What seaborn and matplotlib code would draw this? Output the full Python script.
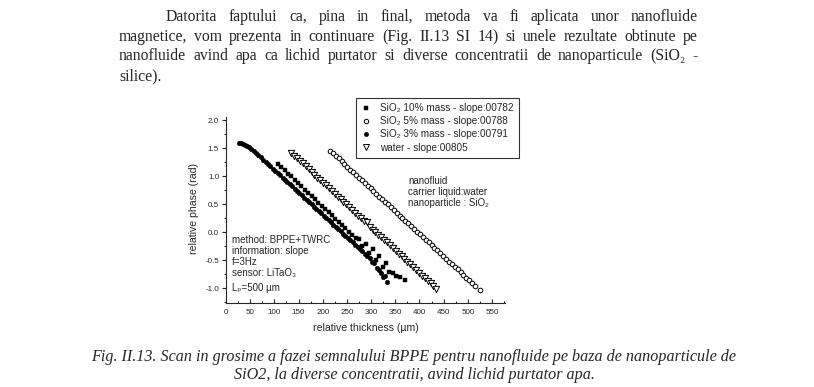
import matplotlib
matplotlib.use("Agg")
import matplotlib.pyplot as plt
import seaborn as sns
import pandas as pd
from matplotlib.lines import Line2D

# ---------------- data ----------------
x_10 = [107, 114, 121, 128, 135, 142, 149, 156, 163, 170, 177, 184, 191, 198, 205, 212,
        219, 226, 233, 240, 247, 254, 261, 268, 275, 282, 289, 296, 303, 310, 317, 324,
        331, 338, 345, 352, 360, 370]
y_10 = [1.22, 1.16, 1.11, 1.05, 1.00, 0.93, 0.88, 0.82, 0.76, 0.71, 0.65, 0.60, 0.53, 0.47,
        0.42, 0.36, 0.31, 0.24, 0.19, 0.13, 0.07, 0.01, -0.04, -0.10, -0.12, -0.24, -0.20,
        -0.36, -0.30, -0.50, -0.42, -0.62, -0.55, -0.70, -0.72, -0.78, -0.80, -0.85]

x_5 = [215, 221, 227, 233, 239, 245, 251, 257, 263, 269, 275, 281, 287, 293, 299, 305, 311,
       317, 323, 329, 335, 341, 347, 353, 359, 365, 371, 377, 383, 389, 395, 401, 407, 413,
       419, 425, 431, 437, 443, 449, 455, 461, 467, 473, 479, 485, 491, 497, 503, 509, 515, 525]
y_5 = [1.46, 1.41, 1.36, 1.32, 1.27, 1.22, 1.17, 1.12, 1.07, 1.03, 0.98, 0.93, 0.88, 0.83,
       0.79, 0.74, 0.69, 0.64, 0.59, 0.54, 0.50, 0.45, 0.40, 0.35, 0.30, 0.26, 0.21, 0.16,
       0.11, 0.06, 0.01, -0.03, -0.08, -0.13, -0.18, -0.23, -0.27, -0.32, -0.37, -0.42,
       -0.47, -0.52, -0.56, -0.61, -0.66, -0.71, -0.76, -0.81, -0.85, -0.90, -0.95, -1.03]

x_3 = [27, 31, 35, 39, 43, 47, 52, 57, 62, 67, 72, 77, 82, 87, 92, 97, 102, 107, 112, 117,
       122, 127, 132, 137, 142, 147, 152, 157, 162, 167, 172, 177, 182, 187, 192, 197, 202,
       207, 212, 217, 222, 227, 232, 237, 242, 247, 252, 257, 262, 267, 272, 277, 282, 287,
       292, 297, 302, 307, 312, 316, 320, 324, 328, 333]
y_3 = [1.60, 1.59, 1.58, 1.56, 1.54, 1.52, 1.49, 1.46, 1.42, 1.38, 1.34, 1.30, 1.26, 1.22,
       1.18, 1.14, 1.10, 1.06, 1.02, 0.98, 0.94, 0.90, 0.86, 0.82, 0.78, 0.74, 0.70, 0.66,
       0.62, 0.58, 0.54, 0.50, 0.46, 0.42, 0.38, 0.34, 0.30, 0.26, 0.22, 0.18, 0.14, 0.10,
       0.06, 0.02, -0.02, -0.06, -0.10, -0.14, -0.18, -0.22, -0.26, -0.30, -0.34, -0.38,
       -0.42, -0.46, -0.52, -0.55, -0.63, -0.67, -0.72, -0.80, -0.78, -0.88]

x_w = [135, 141, 147, 153, 159, 165, 171, 177, 183, 189, 195, 201, 207, 213, 219, 225, 231,
       237, 243, 249, 255, 261, 267, 273, 279, 285, 291, 297, 303, 309, 315, 321, 327, 333,
       339, 345, 351, 357, 363, 369, 375, 381, 387, 393, 399, 405, 411, 417, 423, 429, 435]
y_w = [1.42, 1.37, 1.32, 1.27, 1.23, 1.18, 1.13, 1.08, 1.03, 0.98, 0.93, 0.89, 0.84, 0.79,
       0.74, 0.69, 0.64, 0.59, 0.55, 0.50, 0.45, 0.40, 0.35, 0.30, 0.25, 0.20, 0.18, 0.10,
       0.05, 0.01, -0.04, -0.09, -0.14, -0.18, -0.23, -0.28, -0.33, -0.38, -0.43, -0.48,
       -0.52, -0.57, -0.62, -0.67, -0.72, -0.77, -0.82, -0.86, -0.91, -0.96, -1.01]

legend_labels = ["SiO\u2082 10% mass - slope:00782",
                 "SiO\u2082 5% mass - slope:00788",
                 "SiO\u2082 3% mass - slope:00791",
                 "water - slope:00805"]

x_ticks = [0, 50, 100, 150, 200, 250, 300, 350, 400, 450, 500, 550]
y_ticks = [-1.0, -0.5, 0.0, 0.5, 1.0, 1.5, 2.0]

para_lines = [
    "Datorita faptului ca, pina in final, metoda va fi aplicata unor nanofluide",
    "magnetice, vom prezenta in continuare (Fig. II.13 SI 14) si unele rezultate obtinute pe",
    "nanofluide avind apa ca lichid purtator si diverse concentratii de nanoparticule (SiO\u2082 -",
    "silice).",
]
caption_lines = [
    "Fig. II.13. Scan in grosime a fazei semnalului BPPE pentru nanofluide pe baza de nanoparticule de",
    "SiO2, la diverse concentratii, avind lichid purtator apa.",
]
left_note = ["method: BPPE+TWRC", "information: slope", "f=3Hz",
             "sensor: LiTaO\u2083", "L\u209a=500 \u00b5m"]
right_note = ["nanofluid", "carrier liquid:water", "nanoparticle : SiO\u2082"]

# ---------------- style ----------------
sns.set_theme(style="ticks")
SANS = ['Liberation Sans', 'DejaVu Sans']
SERIF = ['Liberation Serif', 'DejaVu Serif']
plt.rcParams['font.family'] = SANS
plt.rcParams['axes.linewidth'] = 0.8

W, H = 814, 387
fig = plt.figure(figsize=(W / 100, H / 100), dpi=100)
fig.patch.set_facecolor('white')


def fx(px):
    return px / W


def fy(py):
    return 1 - py / H


ax = fig.add_axes([fx(226), fy(303), (505 - 226) / W, (303 - 117) / H])
ax.set_facecolor('white')

ms = 11
sns.scatterplot(x=x_10, y=y_10, ax=ax, marker='s', color='black', edgecolor='black',
                linewidth=0.3, s=ms, zorder=3)
sns.scatterplot(x=x_5, y=y_5, ax=ax, marker='o', color='white', edgecolor='black',
                linewidth=0.7, s=ms, zorder=3)
sns.scatterplot(x=x_3, y=y_3, ax=ax, marker='o', color='black', edgecolor='black',
                linewidth=0.3, s=ms, zorder=3)
sns.scatterplot(x=x_w, y=y_w, ax=ax, marker='v', color='white', edgecolor='black',
                linewidth=0.7, s=20, zorder=3)

ax.set_xlim(0, 577)
ax.set_ylim(-1.26, 2.06)
ax.set_xticks(x_ticks)
ax.set_xticklabels([str(t) for t in x_ticks])
ax.set_yticks(y_ticks)
ax.set_yticklabels([f"{t:.1f}" for t in y_ticks])
ax.set_xticks([t + 25 for t in x_ticks], minor=True)
ax.set_yticks([t + 0.25 for t in y_ticks[:-1]] + [-1.25], minor=True)
ax.tick_params(axis='x', which='major', direction='in', length=3, width=0.8,
               labelsize=5.8, pad=4)
ax.tick_params(axis='x', which='minor', direction='in', length=1.8, width=0.8)
ax.tick_params(axis='y', which='major', direction='out', length=3, width=0.8,
               labelsize=5.8, pad=2)
ax.tick_params(axis='y', which='minor', direction='out', length=1.8, width=0.8)
sns.despine(ax=ax)

ax.set_xlabel("relative thickness (\u00b5m)", fontsize=7.6)
ax.set_ylabel("relative phase (rad)", fontsize=7.6)
ax.xaxis.set_label_coords(0.5, -0.105)
ax.yaxis.set_label_coords(-0.095, 0.51)

# legend
handles = [
    Line2D([], [], ls='none', marker='s', ms=3, mfc='black', mec='black', mew=0.3),
    Line2D([], [], ls='none', marker='o', ms=3.2, mfc='white', mec='black', mew=0.7),
    Line2D([], [], ls='none', marker='o', ms=3.2, mfc='black', mec='black', mew=0.3),
    Line2D([], [], ls='none', marker='v', ms=4, mfc='white', mec='black', mew=0.7),
]
leg = ax.legend(handles, legend_labels, loc='upper left',
                bbox_to_anchor=(0.4, 1.0), frameon=True, fancybox=False,
                edgecolor='black', fontsize=7.2, handlelength=1.0, handletextpad=0.9,
                borderpad=0.5, labelspacing=0.32, borderaxespad=0)
leg.set_bbox_to_anchor((fx(356), fy(98)), transform=fig.transFigure)
leg.get_frame().set_linewidth(0.8)

# annotations inside the plot
for t, py in zip(left_note, [240, 251, 262, 273, 288]):
    fig.text(fx(232), fy(py), t, fontsize=7.0, family=SANS, va='center', ha='left')
for t, py in zip(right_note, [181, 192, 203]):
    fig.text(fx(408), fy(py), t, fontsize=7.0, family=SANS, va='center', ha='left')

# paragraph (justified)
renderer = fig.canvas.get_renderer()
para_fs = 11.3


def justified(text, x0, x1, py, justify=True):
    words = text.split(' ')
    objs = [fig.text(0, fy(py), w, fontsize=para_fs, family=SERIF, va='baseline',
                     ha='left') for w in words]
    widths = [o.get_window_extent(renderer).width for o in objs]
    gap = (x1 - x0 - sum(widths)) / (len(words) - 1) if (justify and len(words) > 1) \
        else 4.0
    x = x0
    for o, w in zip(objs, widths):
        o.set_x(fx(x))
        x += w + gap


justified(para_lines[0], 166, 698, 21)
justified(para_lines[1], 119, 698, 41)
justified(para_lines[2], 119, 698, 60)
justified(para_lines[3], 119, 698, 80, justify=False)

# caption
fig.text(fx(414), fy(361), caption_lines[0], fontsize=11.6, family=SERIF, style='italic',
         ha='center', va='baseline')
fig.text(fx(414), fy(379), caption_lines[1], fontsize=11.6, family=SERIF, style='italic',
         ha='center', va='baseline')

fig.savefig("out.png", dpi=100, facecolor='white')
